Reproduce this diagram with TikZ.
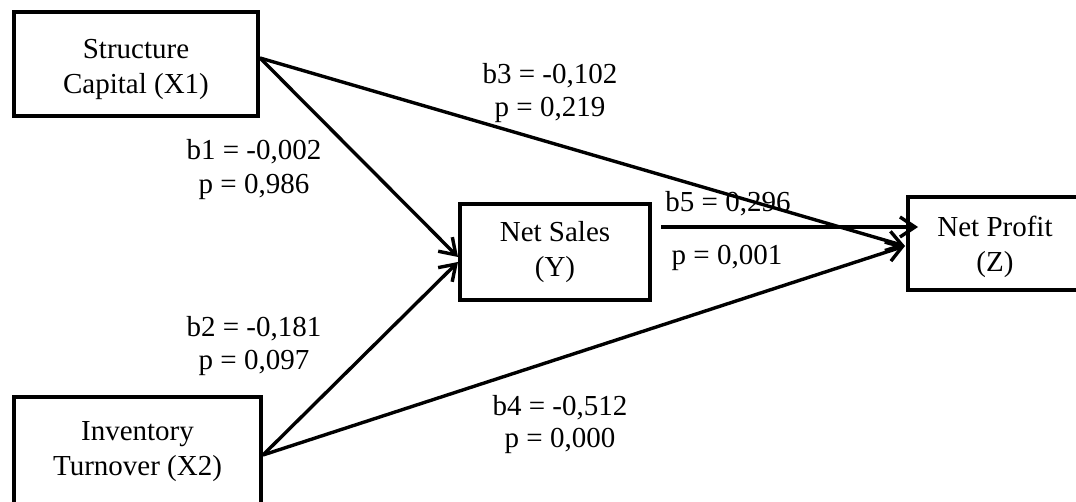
\documentclass[tikz,border=0pt]{standalone}
\usepackage{fontspec}
\setmainfont{Liberation Serif}
\usetikzlibrary{arrows.meta,calc}
\begin{document}
\begin{tikzpicture}[x=1pt,y=-1pt,
  box/.style={draw,line width=4pt,align=center,inner sep=0pt,font=\fontsize{29}{35}\selectfont},
  lbl/.style={anchor=base,inner sep=0pt,font=\fontsize{29}{35}\selectfont},
  conn/.style={line width=3.4pt,-{Straight Barb[length=15pt,width=20pt]}}]
\useasboundingbox (0,0) rectangle (1076,502);
\clip (0,0) rectangle (1076,502);

\node[box,minimum width=244pt,minimum height=104pt] (X1) at (136,64) {\rule{0pt}{30pt}Structure\\Capital (X1)};
\node[box,minimum width=247pt,minimum height=110pt] (X2) at (137.5,452) {Inventory\\Turnover (X2)};
\node[box,minimum width=190pt,minimum height=96pt] (Y) at (555,252) {Net Sales\\(Y)};
\node[box,minimum width=200pt,minimum height=93pt] (Z) at (1008,243.5) {\rule{0pt}{28pt}Net Profit\hspace*{26pt}\\(Z)\hspace*{26pt}};

\coordinate (s1) at ($(X1.east)+(0,-6)$);
\coordinate (s2) at ($(X2.east)+(0,3)$);
\coordinate (tY1) at ($(Y.west)+(0,5)$);
\coordinate (tY2) at ($(Y.west)+(0,10)$);
\coordinate (s5) at ($(Y.east)+(9,-25)$);
\coordinate (tZ5) at ($(Z.west)+(12,-16.5)$);
\coordinate (tZ) at ($(Z.west)+(-1,2.5)$);

\draw[conn] (s1) -- (tY1);
\draw[conn] (s2) -- (tY2);
\draw[conn] (s1) -- (tZ);
\draw[conn] (s2) -- (tZ);
\draw[conn] (s5) -- (tZ5);

\node[lbl] (b1) at (254,160) {b1 = -0,002};
\node[lbl] (p1) at (254,194) {p = 0,986};
\node[lbl] (b2) at (254,337) {b2 = -0,181};
\node[lbl] (p2) at (254,370) {p = 0,097};
\node[lbl] (b3) at (550,84) {b3 = -0,102};
\node[lbl] (p3) at (550,117) {p = 0,219};
\node[lbl] (b4) at (560,415) {b4 = -0,512};
\node[lbl] (p4) at (560,447) {p = 0,000};
\node[lbl] (b5) at (728,212) {b5 = 0,296};
\node[lbl] (p5) at (727,265) {p = 0,001};
\end{tikzpicture}
\end{document}
